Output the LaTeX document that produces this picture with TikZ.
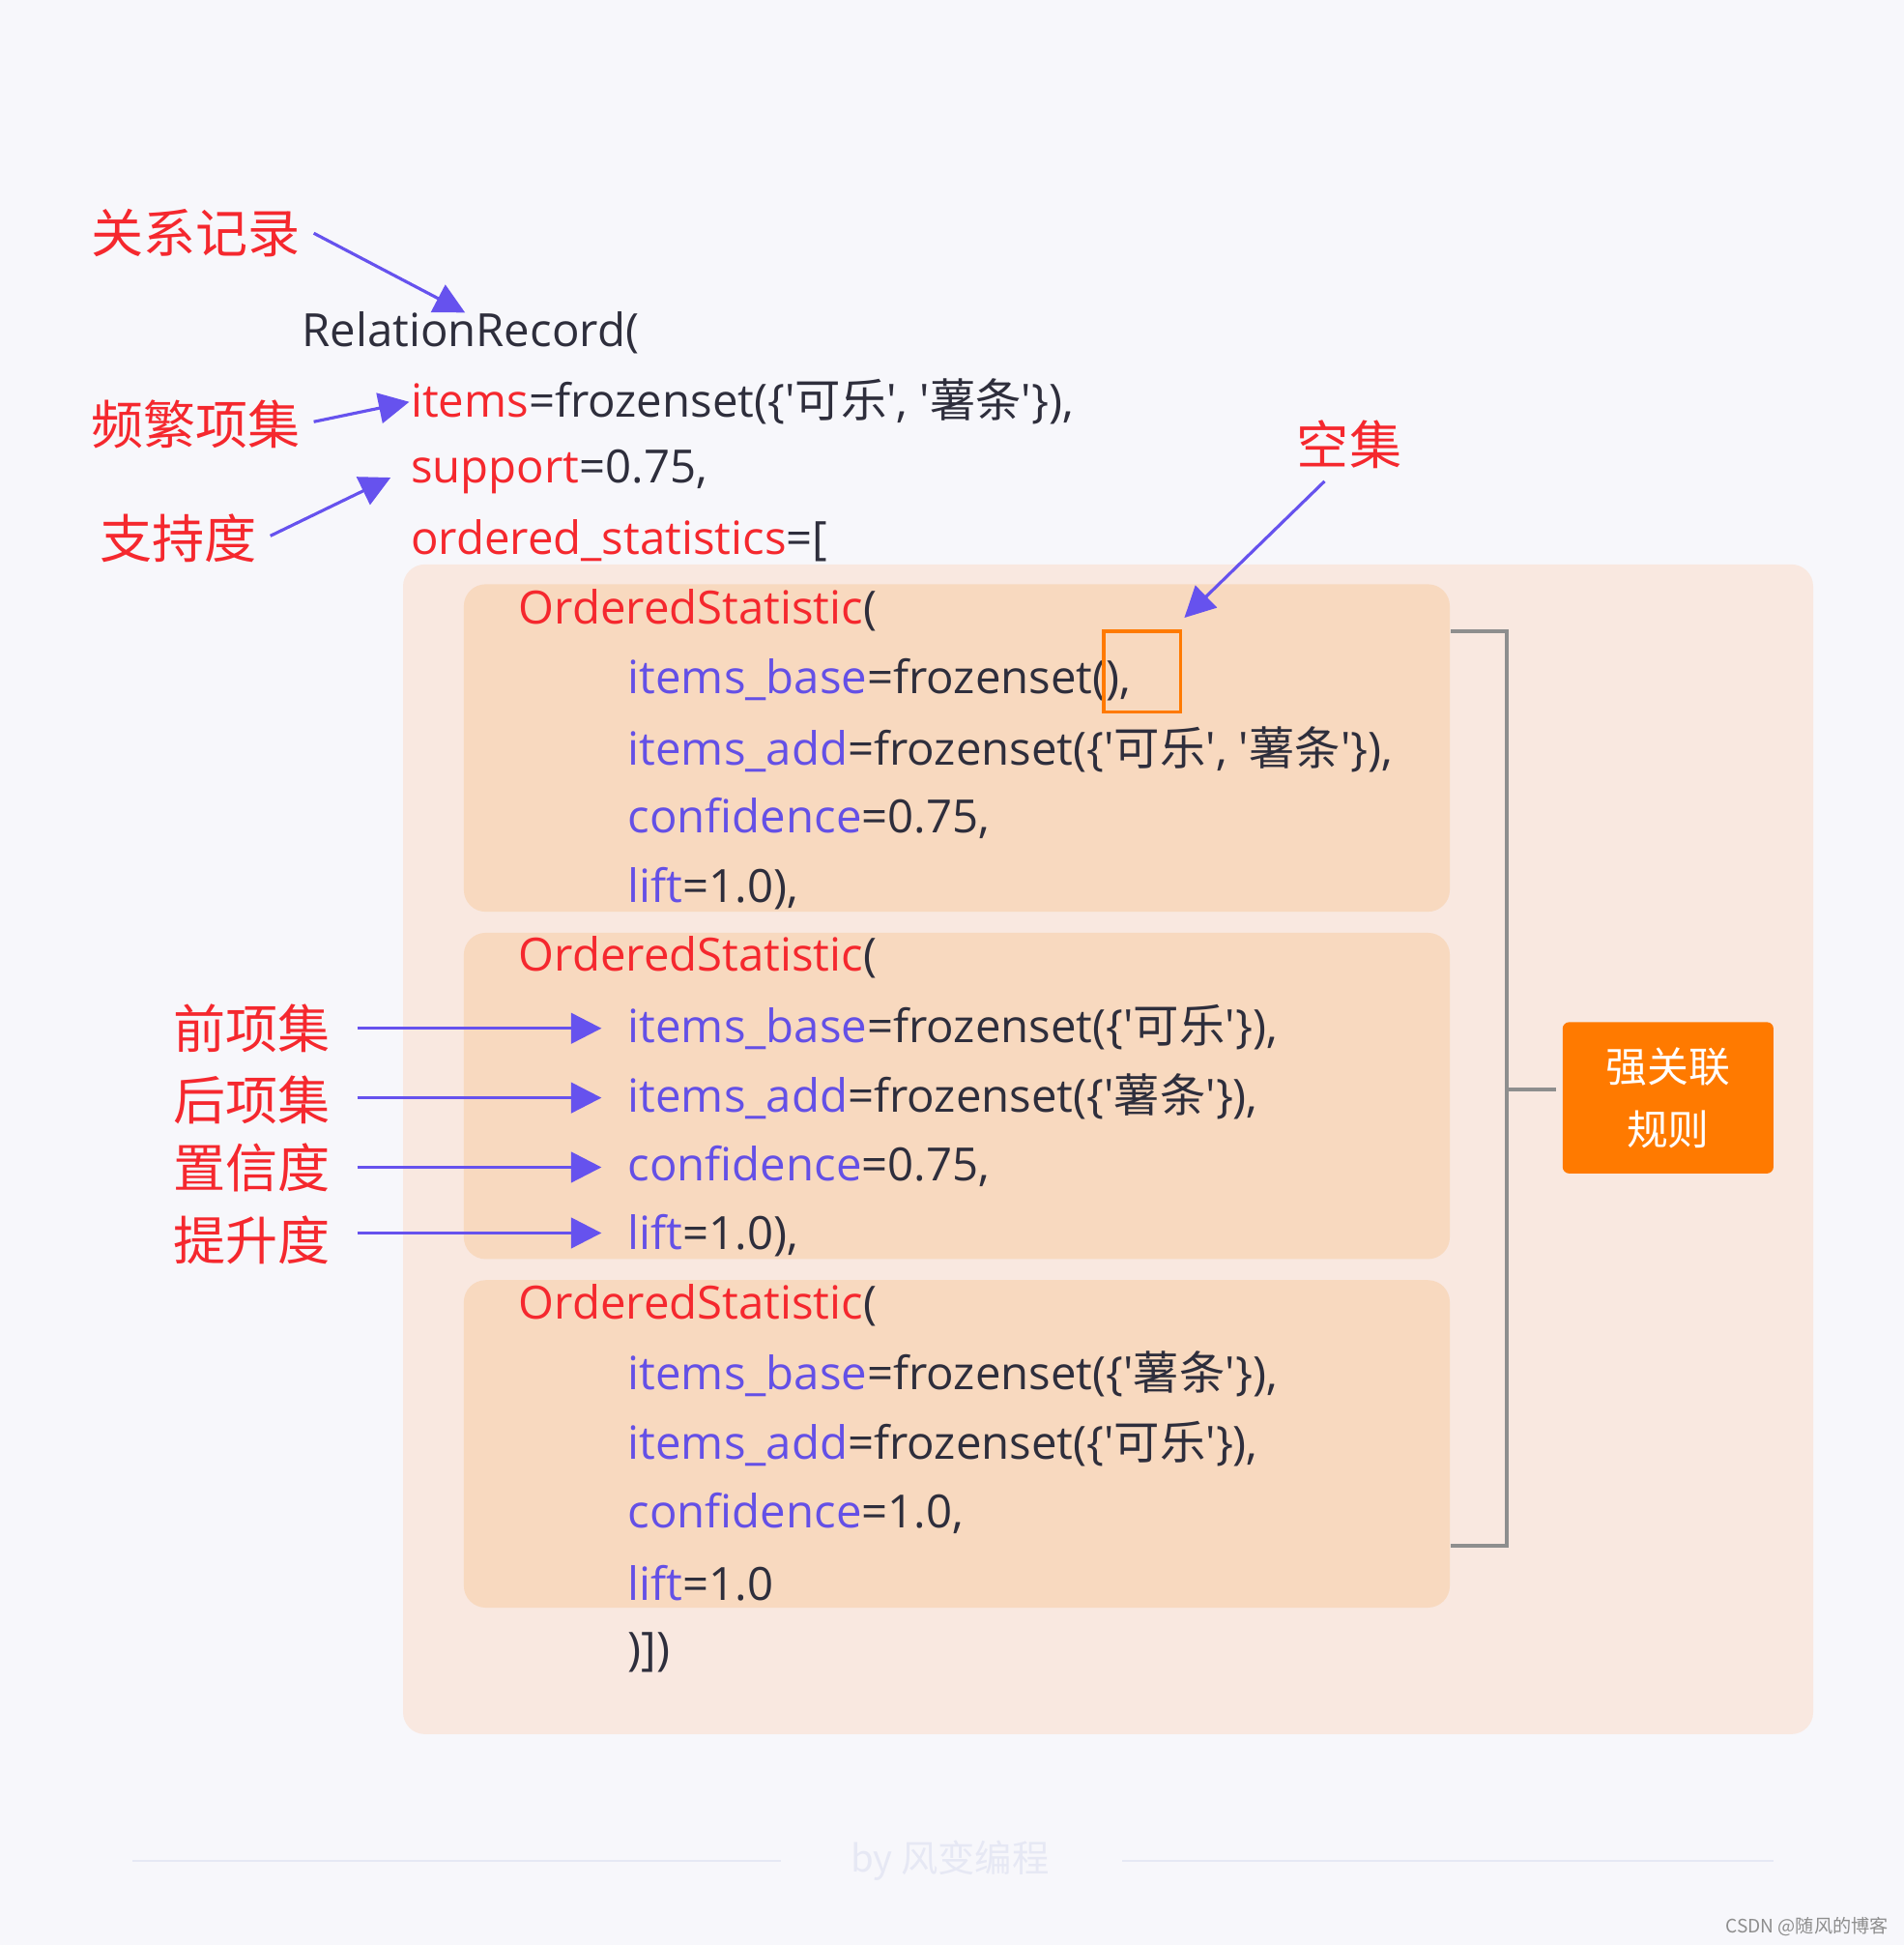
\documentclass[tikz,border=0pt]{standalone}
\usepackage{fontspec}
\setmainfont{Noto Sans CJK SC}
\newfontfamily\code{Open Sans}
\newfontfamily\cjk{Noto Sans CJK SC}
\newcommand\K[1]{{\cjk #1}}
\definecolor{bg}{HTML}{F7F7FB}
\definecolor{panel}{HTML}{F9E8E0}
\definecolor{ibox}{HTML}{F8D9BF}
\definecolor{rd}{HTML}{F5282E}
\definecolor{pu}{HTML}{6450E6}
\definecolor{dk}{HTML}{2E2E3C}
\definecolor{og}{HTML}{FF7A00}
\definecolor{ar}{HTML}{6652EE}
\definecolor{gr}{HTML}{8E8E8E}
\definecolor{faint}{HTML}{E6E8F4}
\usetikzlibrary{arrows.meta}
\begin{document}
\begin{tikzpicture}[x=0.02cm,y=-0.02cm,
  code/.style={anchor=west,inner sep=0,font=\code\fontsize{21}{24}\selectfont,text=dk},
  lab/.style={text=rd,font=\fontsize{24}{28}\selectfont\cjk,inner sep=0},
  arr/.style={draw=ar,line width=1.4pt,-{Triangle[length=14pt,width=14pt]}}]
\fill[bg] (0,0) rectangle (1535,1568);
\useasboundingbox (0,0) rectangle (1535,1568);
\fill[panel,rounded corners=10pt] (325,455) rectangle (1462,1398);
\foreach \a/\b in {471/735,752/1015,1032/1296}
  \fill[ibox,rounded corners=10pt] (374,\a) rectangle (1169,\b);
% code
\node[code] (rr) at (243,268) {RelationRecord(};
\node[code] (it) at (331,324) {\textcolor{rd}{items}=frozenset(\{'\K{可乐}', '\K{薯条}'\}),};
\node[code] (sp) at (331,380) {\textcolor{rd}{support}=0.75,};
\node[code] (os) at (331,436) {\textcolor{rd}{ordered\_statistics}=[};
\node[code] (o1) at (418,492) {\textcolor{rd}{OrderedStatistic}(};
\node[code] (b1) at (506,548) {\textcolor{pu}{items\_base}=frozenset(),};
\node[code] (a1) at (506,604) {\textcolor{pu}{items\_add}=frozenset(\{'\K{可乐}', '\K{薯条}'\}),};
\node[code] (c1) at (506,660) {\textcolor{pu}{confidence}=0.75,};
\node[code] (l1) at (506,716) {\textcolor{pu}{lift}=1.0),};
\node[code] (o2) at (418,772) {\textcolor{rd}{OrderedStatistic}(};
\node[code] (b2) at (506,828) {\textcolor{pu}{items\_base}=frozenset(\{'\K{可乐}'\}),};
\node[code] (a2) at (506,884) {\textcolor{pu}{items\_add}=frozenset(\{'\K{薯条}'\}),};
\node[code] (c2) at (506,940) {\textcolor{pu}{confidence}=0.75,};
\node[code] (l2) at (506,996) {\textcolor{pu}{lift}=1.0),};
\node[code] (o3) at (418,1052) {\textcolor{rd}{OrderedStatistic}(};
\node[code] (b3) at (506,1108) {\textcolor{pu}{items\_base}=frozenset(\{'\K{薯条}'\}),};
\node[code] (a3) at (506,1164) {\textcolor{pu}{items\_add}=frozenset(\{'\K{可乐}'\}),};
\node[code] (c3) at (506,1220) {\textcolor{pu}{confidence}=1.0,};
\node[code] (l3) at (506,1276) {\textcolor{pu}{lift}=1.0};
\node[code] (end) at (506,1332) {)])};
% labels
\node[lab] (L1) at (158,188) {关系记录};
\node[lab] (L2) at (158,342) {频繁项集};
\node[lab] (L3) at (144,434) {支持度};
\node[lab] (L4) at (1088,358) {空集};
\node[lab] (L5) at (203,829) {前项集};
\node[lab] (L6) at (203,887) {后项集};
\node[lab] (L7) at (203,941) {置信度};
\node[lab] (L8) at (203,1000) {提升度};
% arrows
\coordinate (t1) at (375,252); \coordinate (t2) at (330,324);
\coordinate (t3) at (315,385); \coordinate (t4) at (955,498);
\coordinate (f1) at (253,188); \coordinate (f2) at (253,340);
\coordinate (f3) at (218,432); \coordinate (f4) at (1068,388);
\draw[arr] (f1) -- (t1);
\draw[arr] (f2) -- (t2);
\draw[arr] (f3) -- (t3);
\draw[arr] (f4) -- (t4);
\foreach \n/\y in {L5/829,L6/885,L7/941,L8/994}{
  \coordinate (s\n) at (288,\y); \coordinate (e\n) at (485,\y);
  \draw[arr] (s\n) -- (e\n);}
% empty set box
\draw[og,line width=1.5pt] (890,509) rectangle (952,574);
% bracket
\draw[gr,line width=1.8pt] (1170,509) -- (1215,509) -- (1215,1246) -- (1170,1246);
\draw[gr,line width=1.8pt] (1215,878) -- (1255,878);
\fill[og,rounded corners=3pt] (1260,824) rectangle (1430,946);
\node[text=white,align=center,font=\fontsize{19}{29}\selectfont\cjk] (rule) at (1345,885) {强关联\\规则};
% footer
\draw[faint,line width=1pt] (107,1500) -- (630,1500);
\draw[faint,line width=1pt] (905,1500) -- (1430,1500);
\node[text=faint,font=\fontsize{17}{20}\selectfont] (by) at (766,1500) {by 风变编程};
\node[text=gr,font=\fontsize{8.5}{10}\selectfont] (wm) at (1457,1553) {CSDN @随风的博客};
\end{tikzpicture}
\end{document}
